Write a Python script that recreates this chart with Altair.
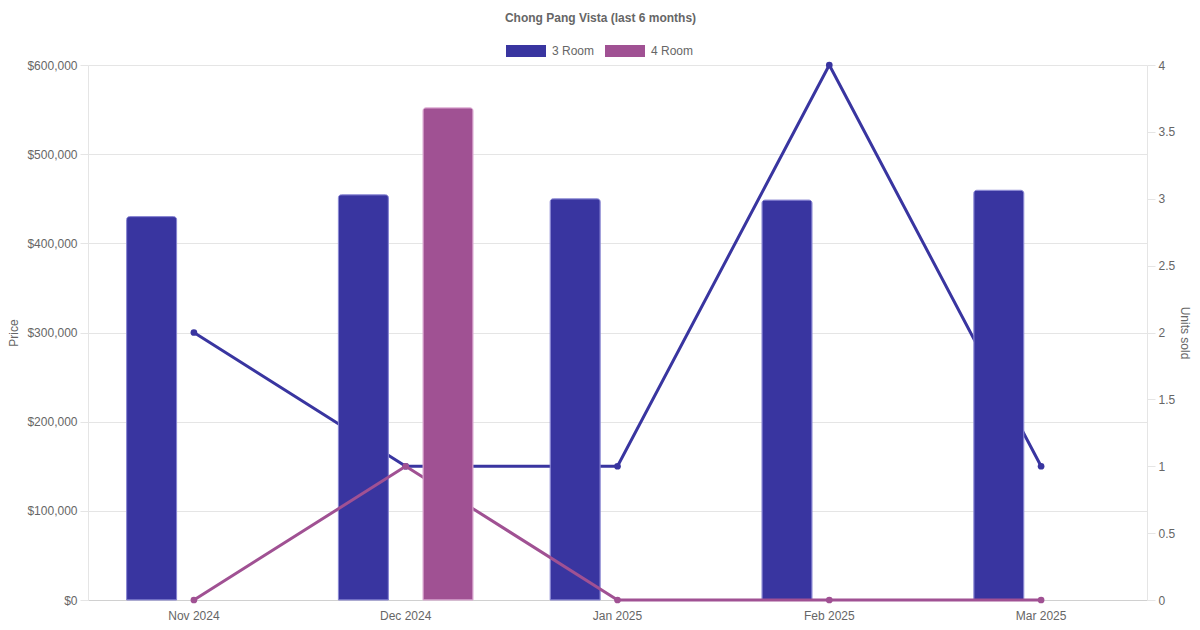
import altair as alt
import pandas as pd

months = ["Nov 2024", "Dec 2024", "Jan 2025", "Feb 2025", "Mar 2025"]
rooms = ["3 Room", "4 Room"]
price_3room = [430000, 454500, 450000, 448500, 459500]
price_4room = [None, 552000, None, None, None]
units_3room = [2, 1, 1, 4, 1]
units_4room = [0, 1, 0, 0, 0]

BLUE = "#3935A0"
PURPLE = "#A05193"
FONT = "Liberation Sans"
TXT = "#666666"
GRID = "#e5e5e5"

df3 = pd.DataFrame({"month": months, "room": "3 Room", "price": price_3room, "units": units_3room})
df4 = pd.DataFrame({"month": months, "room": "4 Room", "price": price_4room, "units": units_4room})
df4_bars = df4.dropna(subset=["price"])

x_enc = alt.X(
    "month:N",
    sort=months,
    scale=alt.Scale(domain=months, paddingInner=0, paddingOuter=0),
    axis=alt.Axis(title=None, labelAngle=0, ticks=False, grid=False, domainColor="#d0d0d0",
                  labelPadding=10, labelColor=TXT, labelFontSize=12, labelFont=FONT),
)
xoff = alt.XOffset("room:N", scale=alt.Scale(domain=rooms, paddingInner=0.409, paddingOuter=0.456))
color_enc = alt.Color(
    "room:N",
    scale=alt.Scale(domain=rooms, range=[BLUE, PURPLE]),
    legend=alt.Legend(
        orient="none", legendX=418, legendY=-34, direction="horizontal", title=None,
        symbolType="M-1,-0.3H1V0.3H-1Z", symbolSize=1600, symbolStrokeWidth=0,
        labelFontSize=12, labelColor=TXT, labelFont=FONT, labelOffset=6, columnPadding=10,
    ),
)

price_scale = alt.Scale(domain=[0, 600000], nice=False, zero=True)
units_scale = alt.Scale(domain=[0, 4], nice=False, zero=True)

price_axis = alt.Axis(
    title="Price", orient="left", format="$,.0f", values=[0, 100000, 200000, 300000, 400000, 500000, 600000],
    grid=True, gridColor=GRID, domainColor=GRID, tickColor=GRID, tickSize=8, labelPadding=3,
    labelColor=TXT, labelFontSize=12, labelFont=FONT, titleColor=TXT, titleFontSize=12,
    titleFontWeight="normal", titleFont=FONT, titlePadding=6,
)
units_axis = alt.Axis(
    title="Units sold", orient="right", format="~g", values=[0, 0.5, 1, 1.5, 2, 2.5, 3, 3.5, 4],
    grid=False, domainColor=GRID, tickColor=GRID, tickSize=8, labelPadding=3,
    labelColor=TXT, labelFontSize=12, labelFont=FONT, titleColor=TXT, titleFontSize=12,
    titleFontWeight="normal", titleFont=FONT, titlePadding=3,
)

line3 = alt.Chart(df3).mark_line(
    color=BLUE, strokeWidth=3,
    point=alt.OverlayMarkDef(filled=True, size=45, color=BLUE, opacity=1),
).encode(x=x_enc, y=alt.Y("units:Q", scale=units_scale, axis=units_axis))

bar3 = alt.Chart(df3).mark_bar(
    cornerRadiusTopLeft=3, cornerRadiusTopRight=3, stroke="#8582d0", strokeWidth=1,
).encode(x=x_enc, xOffset=xoff, y=alt.Y("price:Q", scale=price_scale, axis=price_axis), color=color_enc)

line4 = alt.Chart(df4).mark_line(
    color=PURPLE, strokeWidth=3,
    point=alt.OverlayMarkDef(filled=True, size=45, color=PURPLE, opacity=1),
).encode(x=x_enc, y=alt.Y("units:Q", scale=units_scale, axis=None))

bar4 = alt.Chart(df4_bars).mark_bar(
    cornerRadiusTopLeft=3, cornerRadiusTopRight=3, stroke="#d9a6cf", strokeWidth=1,
).encode(x=x_enc, xOffset=xoff, y=alt.Y("price:Q", scale=price_scale, axis=None), color=color_enc)

chart = alt.layer(line3, bar3, line4, bar4).resolve_scale(y="independent").properties(
    width=1059,
    height=535,
    autosize=alt.AutoSizeParams(type="none"),
    padding={"left": 80, "top": 57, "right": 45, "bottom": 22},
    title=alt.TitleParams(
        text="Chong Pang Vista (last 6 months)", fontSize=12, fontWeight="bold", color=TXT,
        font=FONT, anchor="middle", dx=-17, offset=6,
    ),
).configure_view(stroke=None)

chart.save("out.html", embed_options={"renderer": "svg", "actions": False})
